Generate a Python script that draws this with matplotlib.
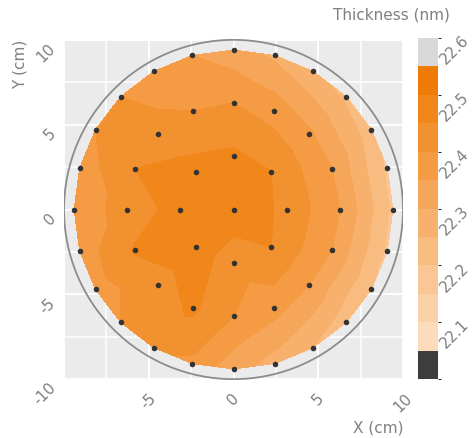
import numpy as np
import matplotlib
matplotlib.use("Agg")
import matplotlib.pyplot as plt
import matplotlib.tri as mtri
from matplotlib.colors import ListedColormap, BoundaryNorm, to_rgb
from matplotlib.cm import ScalarMappable
from matplotlib.patches import Circle

# ---- data: measurement sites (cm) ----
x_pts = [0.0,
         3.15, 2.23, 0.0, -2.23, -3.15, -2.23, 0.0, 2.23,
         6.3, 5.82, 4.45, 2.41, 0.0, -2.41, -4.45, -5.82, -6.3, -5.82, -4.45, -2.41, 0.0, 2.41, 4.45, 5.82,
         9.4, 9.08, 8.14, 6.65, 4.7, 2.43, 0.0, -2.43, -4.7, -6.65, -8.14, -9.08,
         -9.4, -9.08, -8.14, -6.65, -4.7, -2.43, 0.0, 2.43, 4.7, 6.65, 8.14, 9.08]
y_pts = [0.0,
         0.0, 2.23, 3.15, 2.23, 0.0, -2.23, -3.15, -2.23,
         0.0, 2.41, 4.45, 5.82, 6.3, 5.82, 4.45, 2.41, 0.0, -2.41, -4.45, -5.82, -6.3, -5.82, -4.45, -2.41,
         0.0, 2.43, 4.7, 6.65, 8.14, 9.08, 9.4, 9.08, 8.14, 6.65, 4.7, 2.43,
         0.0, -2.43, -4.7, -6.65, -8.14, -9.08, -9.4, -9.08, -8.14, -6.65, -4.7, -2.43]
thickness = [22.53,
             22.49, 22.50, 22.51, 22.52, 22.52, 22.53, 22.47, 22.50,
             22.40, 22.40, 22.41, 22.43, 22.45, 22.45, 22.47, 22.50, 22.47, 22.505, 22.48, 22.51, 22.45, 22.42, 22.40, 22.40,
             22.24, 22.24, 22.27, 22.29, 22.31, 22.34, 22.37, 22.40, 22.42, 22.45, 22.45, 22.42,
             22.42, 22.42, 22.43, 22.45, 22.46, 22.44, 22.37, 22.33, 22.30, 22.27, 22.25, 22.24]

levels = [22.05, 22.10, 22.15, 22.20, 22.25, 22.30, 22.35, 22.40, 22.45, 22.50, 22.55, 22.60, 22.65]
cbar_ticks = [22.1, 22.2, 22.3, 22.4, 22.5, 22.6]
x_ticks = [-10, -5, 0, 5, 10]
x_tick_labels = ["", "-5", "0", "5", "10"]
y_ticks = [-10, -5, 0, 5, 10]
y_tick_labels = ["-10", "-5", "0", "5", "10"]
wafer_radius = 10

# ---- colours ----
lo = np.array(to_rgb("#fddcbe"))
hi = np.array(to_rgb("#ef7b06"))
oranges = [tuple(lo + (hi - lo) * i / 9) for i in range(10)]
colors = ["#3d3d3b"] + oranges + ["#d9d9d9"]
cmap = ListedColormap(colors)
norm = BoundaryNorm(levels, cmap.N)

W, H = 473, 439
plt.rcParams['font.family'] = ['DejaVu Sans']
fig = plt.figure(figsize=(W / 100, H / 100), dpi=100)
gray_txt = "#7f7f7f"
fs = 11

ax = fig.add_axes([64 / W, 1 - 381 / H, 339 / W, 341 / H])
ax.set_facecolor("#ebebeb")
for s in ax.spines.values():
    s.set_visible(False)
ax.set_xlim(-10, 10)
ax.set_ylim(-10.05, 10.05)
ax.set_xticks(x_ticks)
ax.set_yticks(y_ticks)
ax.set_xticks([-7.5, -2.5, 2.5, 7.5], minor=True)
ax.set_yticks([-7.5, -2.5, 2.5, 7.5], minor=True)
ax.grid(True, which="major", color="white", linewidth=1.3)
ax.grid(True, which="minor", color="white", linewidth=1.1)
ax.set_axisbelow(True)
ax.tick_params(which="both", length=0)
ax.set_xticklabels(x_tick_labels, rotation=45, ha="center", va="top", color=gray_txt, fontsize=fs)
ax.set_yticklabels(y_tick_labels, rotation=45, ha="right", va="top", color=gray_txt, fontsize=fs)
ax.tick_params(axis="x", pad=7)
ax.tick_params(axis="y", pad=4)

tri = mtri.Triangulation(x_pts, y_pts)
ax.tricontourf(tri, thickness, levels=levels, cmap=cmap, norm=norm, zorder=2)
ax.scatter(x_pts, y_pts, s=16, color="#333333", zorder=4, linewidths=0)
ax.add_patch(Circle((0, 0), wafer_radius, fill=False, edgecolor="#8c8c8c", linewidth=1.3, zorder=3))

fig.text(403 / W, 1 - 428 / H, "X (cm)", ha="right", va="center", color=gray_txt, fontsize=fs)
fig.text(20 / W, 1 - 40 / H, "Y (cm)", ha="center", va="top", rotation=90, color=gray_txt, fontsize=fs)
fig.text(450 / W, 1 - 15 / H, "Thickness (nm)", ha="right", va="center", color=gray_txt, fontsize=fs)

cax = fig.add_axes([418 / W, 1 - 380 / H, 20 / W, 341 / H])
sm = ScalarMappable(norm=norm, cmap=cmap)
cb = fig.colorbar(sm, cax=cax, boundaries=levels, ticks=cbar_ticks, spacing="proportional")
cb.outline.set_visible(False)
cax.tick_params(length=0, pad=7)
cax.set_yticklabels([f"{t:.1f}" for t in cbar_ticks])
for lab in cax.get_yticklabels():
    lab.set_rotation(45)
    lab.set_rotation_mode("anchor")
    lab.set_ha("left")
    lab.set_va("bottom")
    lab.set_color(gray_txt)
    lab.set_fontsize(fs)

fig.savefig("out.png", dpi=100)
